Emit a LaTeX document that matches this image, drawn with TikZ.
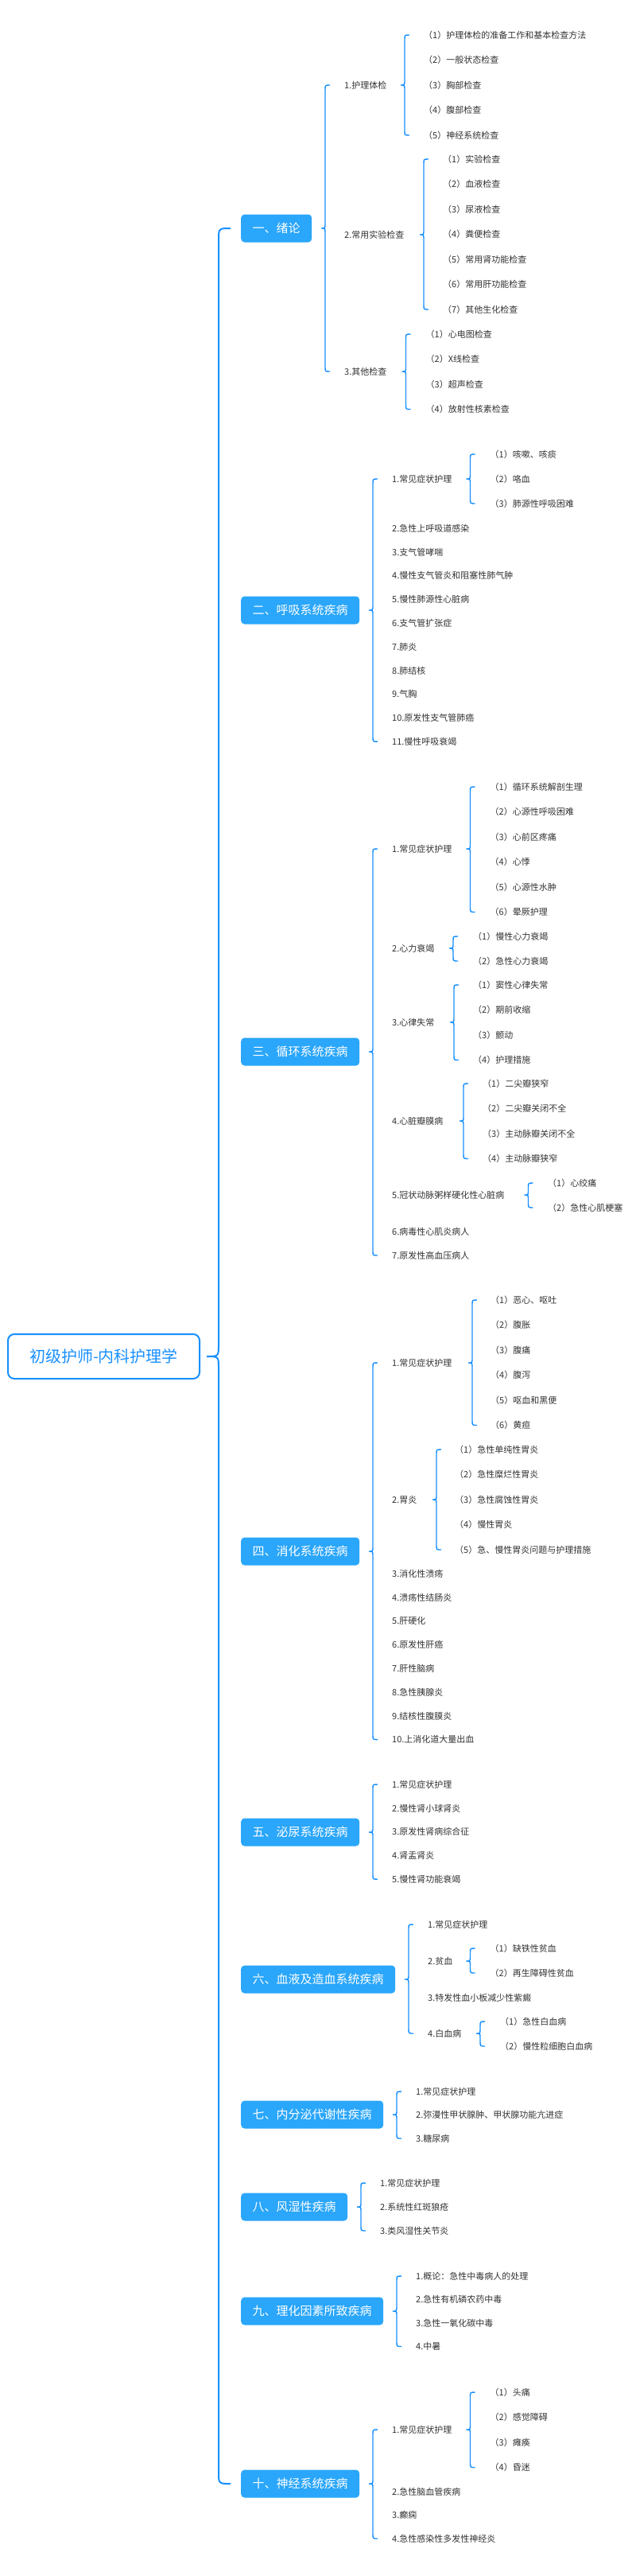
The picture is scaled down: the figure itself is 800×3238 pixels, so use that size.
\documentclass[tikz,border=0pt]{standalone}
\usepackage{fontspec}
\setmainfont{Noto Sans CJK SC}
\usetikzlibrary{calc}
\definecolor{lineblue}{HTML}{1890FF}
\definecolor{boxblue}{HTML}{2AA6FA}
\definecolor{txt}{HTML}{333333}
\tikzset{
 conn/.style={draw=lineblue, line width=1.4pt},
 mainconn/.style={draw=lineblue, line width=2pt},
 rootbox/.style={draw=lineblue, line width=2pt, rounded corners=8pt, fill=white, text=lineblue,
   font=\fontsize{20}{24}\selectfont, minimum width=241pt, minimum height=56pt, inner sep=0pt,
   text height=17.6pt, text depth=2.4pt, anchor=west},
 secbox/.style={fill=boxblue, text=white, rounded corners=4.5pt, font=\fontsize{15}{18}\selectfont,
   inner xsep=14.5pt, inner ysep=0pt, minimum height=35pt, text height=13.2pt, text depth=1.8pt, anchor=west},
 item/.style={text=txt, font=\fontsize{11}{13}\selectfont, inner sep=0pt, anchor=west,
   text height=9.7pt, text depth=1.3pt},
}
% #1 style, #2 parent, #3 first child, #4 last child, #5 gap line->child, #6 tip depth, #7 curl
\newcommand\mmbrace[7]{%
  \path (#3.west) ++(-#5,0) coordinate (bX);
  \path (bX |- #2.east) coordinate (bM);
  \path (bX |- #3.west) coordinate (bF);
  \path (bX |- #4.west) coordinate (bL);
  \draw[#1] ($(bF)+(#7,0)$) .. controls (bF) .. ($(bF)+(0,#7)$)
    -- ($(bM)+(0,-#7)$) .. controls (bM) .. ($(bM)+(-#6,0)$)
    .. controls (bM) .. ($(bM)+(0,#7)$)
    -- ($(bL)+(0,-#7)$) .. controls (bL) .. ($(bL)+(#7,0)$);
}
\begin{document}
\begin{tikzpicture}[x=1pt,y=-1pt]
\fill[white] (0,0) rectangle (800,3238);
\useasboundingbox (0,0) rectangle (800,3238);

% root
\node[rootbox] (root) at (9,1705) {初级护师-内科护理学};

% sections
\node[secbox] (s1) at (303,287) {一、绪论};
\node[secbox] (s2) at (303,767) {二、呼吸系统疾病};
\node[secbox] (s3) at (303,1322) {三、循环系统疾病};
\node[secbox] (s4) at (303,1950) {四、消化系统疾病};
\node[secbox] (s5) at (303,2303) {五、泌尿系统疾病};
\node[secbox] (s6) at (303,2488) {六、血液及造血系统疾病};
\node[secbox] (s7) at (303,2658) {七、内分泌代谢性疾病};
\node[secbox] (s8) at (303,2774) {八、风湿性疾病};
\node[secbox] (s9) at (303,2905) {九、理化因素所致疾病};
\node[secbox] (s10) at (303,3122) {十、神经系统疾病};

% ---- section 1
\node[item] (a1) at (433,107) {1.护理体检};
\node[item] (a2) at (433,295) {2.常用实验检查};
\node[item] (a3) at (433,467) {3.其他检查};
\node[item] (a11) at (533,44) {（1）护理体检的准备工作和基本检查方法};
\node[item] (a12) at (533,75.5) {（2）一般状态检查};
\node[item] (a13) at (533,107) {（3）胸部检查};
\node[item] (a14) at (533,138.5) {（4）腹部检查};
\node[item] (a15) at (533,170) {（5）神经系统检查};
\node[item] (a21) at (557,200) {（1）实验检查};
\node[item] (a22) at (557,231.5) {（2）血液检查};
\node[item] (a23) at (557,263) {（3）尿液检查};
\node[item] (a24) at (557,294.5) {（4）粪便检查};
\node[item] (a25) at (557,326) {（5）常用肾功能检查};
\node[item] (a26) at (557,357.5) {（6）常用肝功能检查};
\node[item] (a27) at (557,389) {（7）其他生化检查};
\node[item] (a31) at (535.5,420) {（1）心电图检查};
\node[item] (a32) at (535.5,451.5) {（2）X线检查};
\node[item] (a33) at (535.5,483) {（3）超声检查};
\node[item] (a34) at (535.5,514.5) {（4）放射性核素检查};

% ---- section 2
\node[item] (b1) at (493,602) {1.常见症状护理};
\node[item] (b2) at (493,664) {2.急性上呼吸道感染};
\node[item] (b3) at (493,693.8) {3.支气管哮喘};
\node[item] (b4) at (493,723.6) {4.慢性支气管炎和阻塞性肺气肿};
\node[item] (b5) at (493,753.4) {5.慢性肺源性心脏病};
\node[item] (b6) at (493,783.2) {6.支气管扩张症};
\node[item] (b7) at (493,813) {7.肺炎};
\node[item] (b8) at (493,842.8) {8.肺结核};
\node[item] (b9) at (493,872.6) {9.气胸};
\node[item] (b10) at (493,902.4) {10.原发性支气管肺癌};
\node[item] (b11) at (493,932.2) {11.慢性呼吸衰竭};
\node[item] (b1a) at (616.5,571) {（1）咳嗽、咳痰};
\node[item] (b1b) at (616.5,602) {（2）咯血};
\node[item] (b1c) at (616.5,633) {（3）肺源性呼吸困难};

% ---- section 3
\node[item] (c1) at (493,1067) {1.常见症状护理};
\node[item] (c2) at (493,1192) {2.心力衰竭};
\node[item] (c3) at (493,1285) {3.心律失常};
\node[item] (c4) at (493,1409) {4.心脏瓣膜病};
\node[item] (c5) at (493,1502) {5.冠状动脉粥样硬化性心脏病};
\node[item] (c6) at (493,1548) {6.病毒性心肌炎病人};
\node[item] (c7) at (493,1578) {7.原发性高血压病人};
\node[item] (c11) at (616.5,989) {（1）循环系统解剖生理};
\node[item] (c12) at (616.5,1020.5) {（2）心源性呼吸困难};
\node[item] (c13) at (616.5,1052) {（3）心前区疼痛};
\node[item] (c14) at (616.5,1083.5) {（4）心悸};
\node[item] (c15) at (616.5,1115) {（5）心源性水肿};
\node[item] (c16) at (616.5,1146.5) {（6）晕厥护理};
\node[item] (c21) at (595,1177) {（1）慢性心力衰竭};
\node[item] (c22) at (595,1208) {（2）急性心力衰竭};
\node[item] (c31) at (595,1238) {（1）窦性心律失常};
\node[item] (c32) at (595,1269.5) {（2）期前收缩};
\node[item] (c33) at (595,1301) {（3）颤动};
\node[item] (c34) at (595,1332.5) {（4）护理措施};
\node[item] (c41) at (607,1362) {（1）二尖瓣狭窄};
\node[item] (c42) at (607,1393.5) {（2）二尖瓣关闭不全};
\node[item] (c43) at (607,1425) {（3）主动脉瓣关闭不全};
\node[item] (c44) at (607,1456.5) {（4）主动脉瓣狭窄};
\node[item] (c51) at (689,1487) {（1）心绞痛};
\node[item] (c52) at (689,1518) {（2）急性心肌梗塞};

% ---- section 4
\node[item] (d1) at (493,1713) {1.常见症状护理};
\node[item] (d2) at (493,1885) {2.胃炎};
\node[item] (d3) at (493,1978) {3.消化性溃疡};
\node[item] (d4) at (493,2007.8) {4.溃疡性结肠炎};
\node[item] (d5) at (493,2037.6) {5.肝硬化};
\node[item] (d6) at (493,2067.4) {6.原发性肝癌};
\node[item] (d7) at (493,2097.2) {7.肝性脑病};
\node[item] (d8) at (493,2127) {8.急性胰腺炎};
\node[item] (d9) at (493,2156.8) {9.结核性腹膜炎};
\node[item] (d10) at (493,2186.6) {10.上消化道大量出血};
\node[item] (d11) at (617,1634) {（1）恶心、呕吐};
\node[item] (d12) at (617,1665.5) {（2）腹胀};
\node[item] (d13) at (617,1697) {（3）腹痛};
\node[item] (d14) at (617,1728.5) {（4）腹泻};
\node[item] (d15) at (617,1760) {（5）呕血和黑便};
\node[item] (d16) at (617,1791.5) {（6）黄疸};
\node[item] (d21) at (572,1822) {（1）急性单纯性胃炎};
\node[item] (d22) at (572,1853.5) {（2）急性糜烂性胃炎};
\node[item] (d23) at (572,1885) {（3）急性腐蚀性胃炎};
\node[item] (d24) at (572,1916.5) {（4）慢性胃炎};
\node[item] (d25) at (572,1948) {（5）急、慢性胃炎问题与护理措施};

% ---- section 5
\node[item] (e1) at (493,2243) {1.常见症状护理};
\node[item] (e2) at (493,2272.8) {2.慢性肾小球肾炎};
\node[item] (e3) at (493,2302.6) {3.原发性肾病综合征};
\node[item] (e4) at (493,2332.4) {4.肾盂肾炎};
\node[item] (e5) at (493,2362.2) {5.慢性肾功能衰竭};

% ---- section 6
\node[item] (f1) at (538,2419) {1.常见症状护理};
\node[item] (f2) at (538,2465) {2.贫血};
\node[item] (f3) at (538,2511) {3.特发性血小板减少性紫癜};
\node[item] (f4) at (538,2556) {4.白血病};
\node[item] (f21) at (616.5,2449) {（1）缺铁性贫血};
\node[item] (f22) at (616.5,2480) {（2）再生障碍性贫血};
\node[item] (f41) at (629,2541) {（1）急性白血病};
\node[item] (f42) at (629,2572) {（2）慢性粒细胞白血病};

% ---- section 7
\node[item] (g1) at (523,2629) {1.常见症状护理};
\node[item] (g2) at (523,2658) {2.弥漫性甲状腺肿、甲状腺功能亢进症};
\node[item] (g3) at (523,2688) {3.糖尿病};

% ---- section 8
\node[item] (h1) at (478,2744) {1.常见症状护理};
\node[item] (h2) at (478,2774) {2.系统性红斑狼疮};
\node[item] (h3) at (478,2804) {3.类风湿性关节炎};

% ---- section 9
\node[item] (i1) at (523,2861) {1.概论：急性中毒病人的处理};
\node[item] (i2) at (523,2890.5) {2.急性有机磷农药中毒};
\node[item] (i3) at (523,2920) {3.急性一氧化碳中毒};
\node[item] (i4) at (523,2949.5) {4.中暑};

% ---- section 10
\node[item] (j1) at (493,3054) {1.常见症状护理};
\node[item] (j2) at (493,3132) {2.急性脑血管疾病};
\node[item] (j3) at (493,3161) {3.癫痫};
\node[item] (j4) at (493,3191) {4.急性感染性多发性神经炎};
\node[item] (j11) at (616.5,3007) {（1）头痛};
\node[item] (j12) at (616.5,3038.5) {（2）感觉障碍};
\node[item] (j13) at (616.5,3070) {（3）瘫痪};
\node[item] (j14) at (616.5,3101.5) {（4）昏迷};

% ---- braces
\mmbrace{mainconn}{root}{s1}{s10}{28}{15}{15}
\mmbrace{conn}{s1}{a1}{a3}{24}{5}{6}
\mmbrace{conn}{a1}{a11}{a15}{24}{5}{6}
\mmbrace{conn}{a2}{a21}{a27}{24}{5}{6}
\mmbrace{conn}{a3}{a31}{a34}{25}{5}{6}
\mmbrace{conn}{s2}{b1}{b11}{24}{5}{6}
\mmbrace{conn}{b1}{b1a}{b1c}{25}{5}{6}
\mmbrace{conn}{s3}{c1}{c7}{24}{5}{6}
\mmbrace{conn}{c1}{c11}{c16}{25}{5}{6}
\mmbrace{conn}{c2}{c21}{c22}{25}{5}{6}
\mmbrace{conn}{c3}{c31}{c34}{24}{5}{6}
\mmbrace{conn}{c4}{c41}{c44}{24}{5}{6}
\mmbrace{conn}{c5}{c51}{c52}{24.5}{5}{6}
\mmbrace{conn}{s4}{d1}{d10}{24}{5}{6}
\mmbrace{conn}{d1}{d11}{d16}{23}{5}{6}
\mmbrace{conn}{d2}{d21}{d25}{23}{5}{6}
\mmbrace{conn}{s5}{e1}{e5}{24}{5}{6}
\mmbrace{conn}{s6}{f1}{f4}{24}{5}{6}
\mmbrace{conn}{f2}{f21}{f22}{25}{5}{6}
\mmbrace{conn}{f4}{f41}{f42}{25}{5}{6}
\mmbrace{conn}{s7}{g1}{g3}{24}{5}{6}
\mmbrace{conn}{s8}{h1}{h3}{24}{5}{6}
\mmbrace{conn}{s9}{i1}{i4}{24}{5}{6}
\mmbrace{conn}{s10}{j1}{j4}{24}{5}{6}
\mmbrace{conn}{j1}{j11}{j14}{25}{5}{6}
\end{tikzpicture}
\end{document}
